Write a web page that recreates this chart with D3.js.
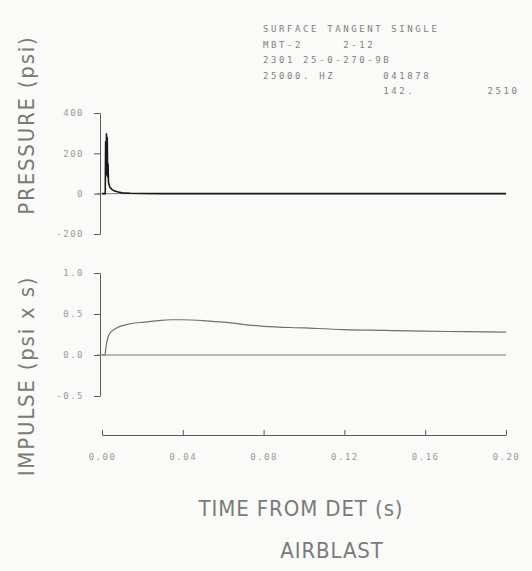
<!DOCTYPE html>
<html>
<head>
<meta charset="utf-8">
<script src="https://cdn.jsdelivr.net/npm/d3@7"></script>
<style>
  body { margin: 0; background: #fafaf8; }
  svg { display: block; }
  .tick text { font-family: "DejaVu Sans Mono", monospace; font-size: 9px; fill: #999; letter-spacing: 1.5px; }
  .domain, .tick line { stroke: #5a5a5a; stroke-width: 1; }
  .title { font-family: "DejaVu Sans", sans-serif; font-size: 22px; fill: #7a7a7a; letter-spacing: 1px; }
</style>
</head>
<body>
<div id="chart"></div>
<script>
// header block printed on the plot
var headerLines = [
  "SURFACE TANGENT SINGLE",
  "MBT-2     2-12",
  "2301 25-0-270-9B",
  "25000. HZ      041878",
  "               142.         2510"
];

// time ticks (s)
var timeTicks = [0, 0.04, 0.08, 0.12, 0.16, 0.20];
var pressureTicks = [-200, 0, 200, 400];
var impulseTicks = [-0.5, 0.0, 0.5, 1.0];

// pressure trace (psi)
var pressureTime = [0, 0.0016, 0.0018, 0.0020, 0.0022, 0.0024, 0.0026, 0.0028, 0.0030, 0.0032, 0.0036, 0.004, 0.005, 0.006, 0.008, 0.010, 0.014, 0.02, 0.03, 0.05, 0.08, 0.12, 0.16, 0.20];
var pressureValue = [0, 0, 260, 90, 300, 110, 280, 80, 150, 60, 40, 30, 20, 14, 8, 4, 2, 1, 0, 0, 0, 0, 0, 0];

// impulse trace (psi x s)
var impulseTime = [0, 0.0014, 0.002, 0.0025, 0.003, 0.004, 0.006, 0.008, 0.012, 0.016, 0.021, 0.028, 0.034, 0.04, 0.05, 0.06, 0.08, 0.10, 0.12, 0.14, 0.16, 0.18, 0.20];
var impulseValue = [0, 0, 0.10, 0.17, 0.22, 0.27, 0.31, 0.34, 0.37, 0.39, 0.40, 0.42, 0.43, 0.43, 0.42, 0.40, 0.35, 0.33, 0.31, 0.30, 0.29, 0.285, 0.28];

var width = 532, height = 571;

var svg = d3.select('#chart')
  .append('svg')
  .attr('width', width)
  .attr('height', height);

var x = d3.scaleLinear().domain([0, 0.20]).range([102, 506]);
var yP = d3.scaleLinear().domain([-200, 400]).range([234, 113]);
var yI = d3.scaleLinear().domain([-0.5, 1.0]).range([396, 273]);

var minus = function (f) { return function (d) { return f(d).replace('\u2212', '-'); }; };

// pressure axis
svg.append('g')
  .attr('transform', 'translate(100,0)')
  .call(d3.axisLeft(yP).tickValues(pressureTicks).tickSize(6).tickPadding(10).tickSizeOuter(0)
    .tickFormat(minus(d3.format('d'))));

// impulse axis
svg.append('g')
  .attr('transform', 'translate(100,0)')
  .call(d3.axisLeft(yI).tickValues(impulseTicks).tickSize(6).tickPadding(10).tickSizeOuter(0)
    .tickFormat(minus(d3.format('.1f'))));

// time axis, ticks point up
svg.append('g')
  .attr('transform', 'translate(0,435)')
  .call(d3.axisBottom(x).tickValues(timeTicks).tickSize(-5).tickPadding(19).tickSizeOuter(0)
    .tickFormat(d3.format('.2f')));

// zero lines
svg.append('line')
  .attr('x1', 97).attr('x2', x(0.20))
  .attr('y1', yP(0)).attr('y2', yP(0))
  .attr('stroke', '#777').attr('stroke-width', 1);
svg.append('line')
  .attr('x1', 97).attr('x2', x(0.20))
  .attr('y1', yI(0)).attr('y2', yI(0))
  .attr('stroke', '#777').attr('stroke-width', 1);

var pLine = d3.line()
  .x(function (d, i) { return x(pressureTime[i]); })
  .y(function (d) { return yP(d); });

svg.append('path')
  .datum(pressureValue)
  .attr('d', pLine)
  .attr('fill', 'none')
  .attr('stroke', '#1a1a1a')
  .attr('stroke-width', 1.6);

var iLine = d3.line()
  .curve(d3.curveMonotoneX)
  .x(function (d, i) { return x(impulseTime[i]); })
  .y(function (d) { return yI(d); });

svg.append('path')
  .datum(impulseValue)
  .attr('d', iLine)
  .attr('fill', 'none')
  .attr('stroke', '#707070')
  .attr('stroke-width', 1.2);

// axis titles (plotter lettering is narrow, so squeeze horizontally)
svg.append('text')
  .attr('class', 'title')
  .attr('transform', 'translate(34,125) rotate(-90) scale(0.9,1)')
  .attr('text-anchor', 'middle')
  .style('letter-spacing', '2px')
  .text('PRESSURE (psi)');

svg.append('text')
  .attr('class', 'title')
  .attr('transform', 'translate(34,376) rotate(-90) scale(0.9,1)')
  .attr('text-anchor', 'middle')
  .style('letter-spacing', '2px')
  .text('IMPULSE (psi x s)');

svg.append('text')
  .attr('class', 'title')
  .attr('transform', 'translate(301,516) scale(0.9,1)')
  .attr('text-anchor', 'middle')
  .text('TIME FROM DET (s)');

svg.append('text')
  .attr('class', 'title')
  .attr('transform', 'translate(332,558) scale(0.9,1)')
  .attr('text-anchor', 'middle')
  .text('AIRBLAST');

// header block
svg.append('g')
  .selectAll('text')
  .data(headerLines)
  .enter()
  .append('text')
  .attr('x', 263)
  .attr('y', function (d, i) { return 32 + i * 15.5; })
  .attr('xml:space', 'preserve')
  .style('white-space', 'pre')
  .style('font-family', 'DejaVu Sans Mono')
  .style('font-size', '9px')
  .style('letter-spacing', '2.6px')
  .style('fill', '#808080')
  .text(function (d) { return d; });
</script>
</body>
</html>
